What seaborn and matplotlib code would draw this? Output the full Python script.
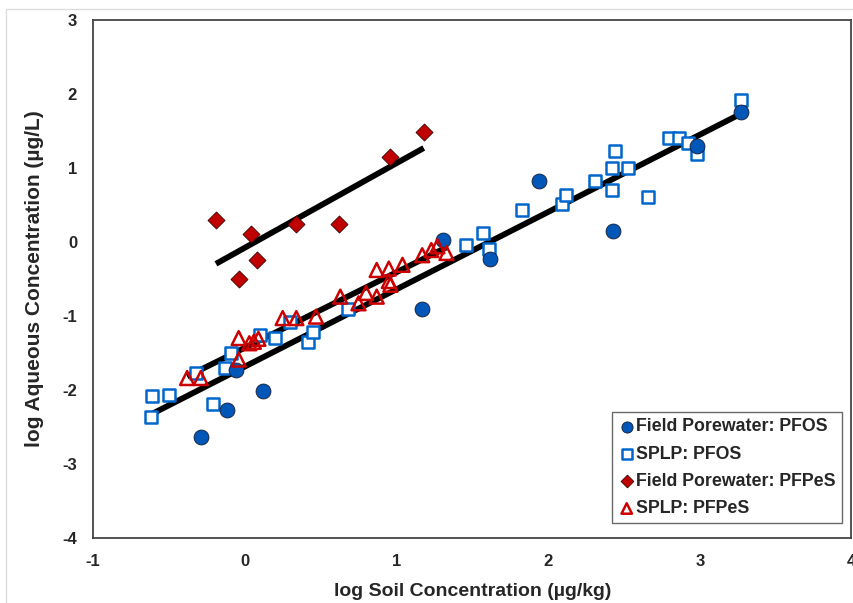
import matplotlib
matplotlib.use("Agg")
import matplotlib.pyplot as plt
import seaborn as sns
import numpy as np
import pandas as pd

# Field porewater PFOS (filled circles)
fp_pfos_x = [-0.29, -0.12, 0.12, -0.06, 1.17, 1.31, 1.62, 1.94, 2.43, 2.98, 3.27]
fp_pfos_y = [-2.63, -2.27, -2.01, -1.73, -0.91, 0.02, -0.23, 0.82, 0.15, 1.30, 1.75]

# SPLP PFOS (open squares)
splp_pfos_x = [-0.62, -0.61, -0.50, -0.21, -0.32, -0.13, -0.09, 0.10, 0.20, 0.30,
               0.42, 0.45, 0.68, 1.46, 1.57, 1.61, 1.83, 2.09, 2.12, 2.31,
               2.42, 2.42, 2.44, 2.53, 2.66, 2.80, 2.86, 2.92, 2.98, 3.27]
splp_pfos_y = [-2.36, -2.08, -2.07, -2.19, -1.77, -1.71, -1.50, -1.26, -1.30, -1.08,
               -1.35, -1.22, -0.91, -0.04, 0.12, -0.09, 0.43, 0.51, 0.63, 0.82,
               0.70, 1.00, 1.23, 1.00, 0.61, 1.41, 1.40, 1.34, 1.19, 1.92]

# Field porewater PFPeS (filled diamonds)
fp_pfpes_x = [-0.19, 0.04, 0.08, -0.04, 0.34, 0.62, 0.96, 1.18]
fp_pfpes_y = [0.30, 0.11, -0.24, -0.50, 0.24, 0.24, 1.15, 1.48]

# SPLP PFPeS (open triangles)
splp_pfpes_x = [-0.38, -0.29, -0.04, -0.04, 0.03, 0.06, 0.09, 0.25, 0.34, 0.47,
                0.63, 0.75, 0.80, 0.87, 0.87, 0.95, 0.95, 0.96, 1.04, 1.17,
                1.23, 1.27, 1.33]
splp_pfpes_y = [-1.84, -1.84, -1.59, -1.30, -1.37, -1.35, -1.31, -1.03, -1.03, -1.01,
                -0.74, -0.83, -0.69, -0.74, -0.38, -0.36, -0.53, -0.58, -0.31, -0.18,
                -0.11, -0.06, -0.15]

x_ticks = [-1, 0, 1, 2, 3, 4]
y_ticks = [-4, -3, -2, -1, 0, 1, 2, 3]

sns.set_style("white")
plt.rcParams["font.family"] = ["Liberation Sans", "DejaVu Sans"]
plt.rcParams["font.weight"] = "bold"
plt.rcParams["axes.unicode_minus"] = False

fig = plt.figure(figsize=(8.54, 6.03), dpi=100)
ax = fig.add_axes([0.109, 0.108, 0.888, 0.859])

# regression lines
pfos_x = fp_pfos_x + splp_pfos_x
pfos_y = fp_pfos_y + splp_pfos_y
line_kws = dict(color="black", lw=4.2, solid_capstyle="butt")
sns.regplot(x=pfos_x, y=pfos_y, scatter=False, ci=None, truncate=True, ax=ax, line_kws=line_kws)
sns.regplot(x=fp_pfpes_x, y=fp_pfpes_y, scatter=False, ci=None, truncate=True, ax=ax, line_kws=line_kws)
sns.regplot(x=splp_pfpes_x, y=splp_pfpes_y, scatter=False, ci=None, truncate=True, ax=ax, line_kws=line_kws)

blue = "#0057B8"
red = "#C00000"

sns.scatterplot(x=splp_pfos_x, y=splp_pfos_y, marker="s", s=85, facecolor="white",
                edgecolor="#0066CC", linewidth=1.8, ax=ax, label="SPLP: PFOS", zorder=3)
sns.scatterplot(x=fp_pfos_x, y=fp_pfos_y, marker="o", s=115, color=blue,
                edgecolor="#1a1a2e", linewidth=0.6, ax=ax, label="Field Porewater: PFOS", zorder=4)
sns.scatterplot(x=splp_pfpes_x, y=splp_pfpes_y, marker="^", s=100, facecolor="none",
                edgecolor="#CC0000", linewidth=1.8, ax=ax, label="SPLP: PFPeS", zorder=5)
sns.scatterplot(x=fp_pfpes_x, y=fp_pfpes_y, marker="D", s=75, color=red,
                edgecolor="#3a0000", linewidth=0.6, ax=ax, label="Field Porewater: PFPeS", zorder=5)

ax.set_xlim(-1, 4)
ax.set_ylim(-4, 3)
ax.set_xticks(x_ticks)
ax.set_yticks(y_ticks)
ax.tick_params(direction="inout", length=9, width=1.2, color="#444444",
               labelsize=12, pad=7)
for lab in ax.get_xticklabels() + ax.get_yticklabels():
    lab.set_fontweight("bold")
for sp in ax.spines.values():
    sp.set_color("#444444")
    sp.set_linewidth(1.3)

ax.set_xlabel("log Soil Concentration (µg/kg)", fontsize=14, fontweight="bold", labelpad=10)
ax.set_ylabel("log Aqueous Concentration (µg/L)", fontsize=15, fontweight="bold", labelpad=13)

handles, labels = ax.get_legend_handles_labels()
order = ["Field Porewater: PFOS", "SPLP: PFOS", "Field Porewater: PFPeS", "SPLP: PFPeS"]
hmap = dict(zip(labels, handles))
leg = ax.legend([hmap[k] for k in order], order, loc="lower right",
                bbox_to_anchor=(0.988, 0.028), borderaxespad=0, frameon=True,
                fancybox=False, edgecolor="#444444", handletextpad=0.05,
                handlelength=1.0, borderpad=0.35, labelspacing=0.58, markerscale=0.75,
                prop=dict(size=12.8, weight="bold"))
leg.get_frame().set_linewidth(1.0)

# light frame around the whole picture
fig.patches.append(plt.Rectangle((0.007, -0.01), 1.0, 0.995, transform=fig.transFigure,
                                 fill=False, edgecolor="#dddddd", lw=1.0))

fig.savefig("out.png", dpi=100)
